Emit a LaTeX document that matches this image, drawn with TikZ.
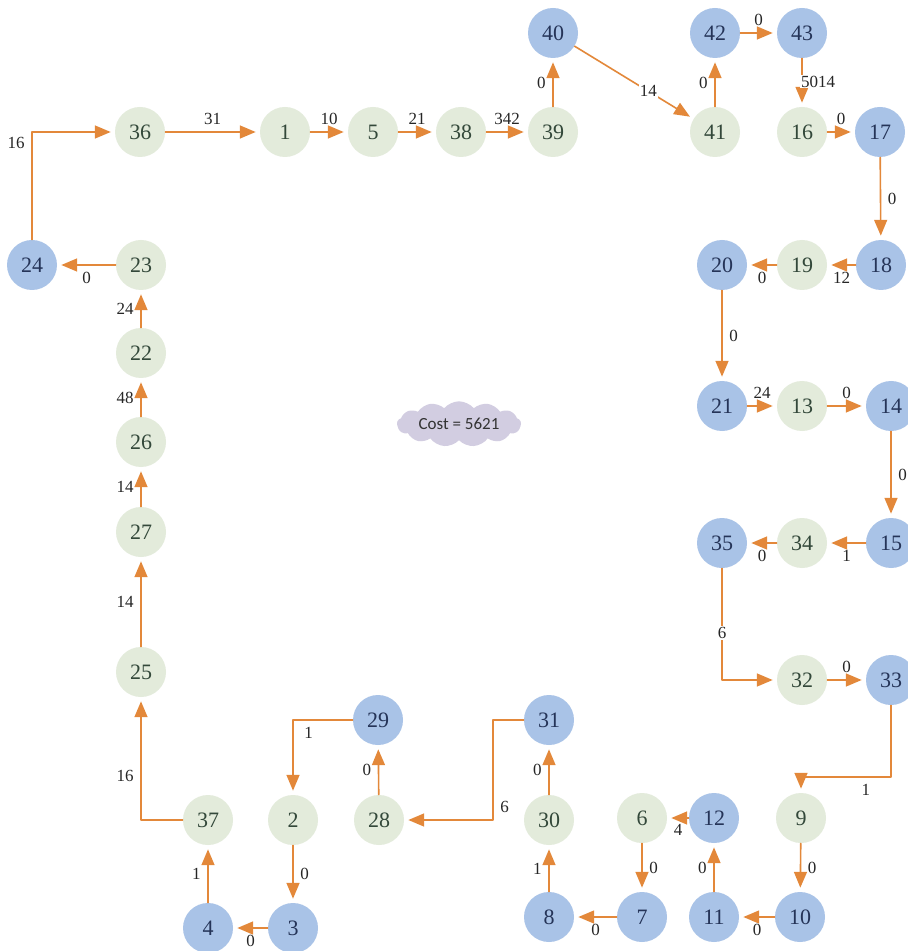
\documentclass[tikz,border=0pt]{standalone}
\usepackage{fontspec}
\setmainfont{Liberation Serif}
\newfontfamily\cloudfont{Carlito}
\usepackage{tikz}
\usetikzlibrary{arrows, shapes.symbols}

\definecolor{knotgruen}{HTML}{E3EBDB}
\definecolor{knotblau}{HTML}{A9C3E7}
\definecolor{kante}{HTML}{E3883A}
\definecolor{wolke}{HTML}{D2CDE1}
\definecolor{schrift}{HTML}{33483A}

\begin{document}
\begin{tikzpicture}[line cap=round,line join=round,>=triangle 45,x=0.5pt,y=-0.5pt,
	gnode/.style={circle,fill=knotgruen,minimum size=25pt,inner sep=0pt,text=schrift,font=\fontsize{11}{12}\selectfont},
	bnode/.style={circle,fill=knotblau,minimum size=25pt,inner sep=0pt,text=schrift!80!blue!90!black,font=\fontsize{11}{12}\selectfont},
	edge/.style={->,draw=kante,line width=0.8pt,shorten >=2pt,font=\fontsize{8.5}{10}\selectfont,text=black!85},
	onlabel/.style={fill=white,inner sep=0.6pt}]
		\clip (0,0) rectangle (908,951);
		\fill[white] (0,0) rectangle (908,951);

		% obere Reihe
		\node[gnode] (n36) at (140,132) {36};
		\node[gnode] (n1) at (285,132) {1};
		\node[gnode] (n5) at (373,132) {5};
		\node[gnode] (n38) at (461,132) {38};
		\node[gnode] (n39) at (553,132) {39};
		\node[bnode] (n40) at (553,33) {40};
		\node[gnode] (n41) at (715,132) {41};
		\node[bnode] (n42) at (715,33) {42};
		\node[bnode] (n43) at (802,33) {43};
		\node[gnode] (n16) at (802,132) {16};
		\node[bnode] (n17) at (880,132) {17};

		% linke Spalte
		\node[bnode] (n24) at (32,265) {24};
		\node[gnode] (n23) at (141,265) {23};
		\node[gnode] (n22) at (141,353) {22};
		\node[gnode] (n26) at (141,442) {26};
		\node[gnode] (n27) at (141,532) {27};
		\node[gnode] (n25) at (141,672) {25};

		% rechte Seite
		\node[bnode] (n20) at (722,265) {20};
		\node[gnode] (n19) at (802,265) {19};
		\node[bnode] (n18) at (881,265) {18};
		\node[bnode] (n21) at (722,406) {21};
		\node[gnode] (n13) at (802,406) {13};
		\node[bnode] (n14) at (891,406) {14};
		\node[bnode] (n35) at (722,543) {35};
		\node[gnode] (n34) at (802,543) {34};
		\node[bnode] (n15) at (891,543) {15};
		\node[gnode] (n32) at (802,680) {32};
		\node[bnode] (n33) at (891,680) {33};

		% untere Reihen
		\node[bnode] (n29) at (378,720) {29};
		\node[bnode] (n31) at (549,720) {31};
		\node[gnode] (n37) at (208,820) {37};
		\node[gnode] (n2) at (293,820) {2};
		\node[gnode] (n28) at (379,820) {28};
		\node[gnode] (n30) at (549,820) {30};
		\node[gnode] (n6) at (642,818) {6};
		\node[bnode] (n12) at (714,818) {12};
		\node[gnode] (n9) at (801,818) {9};
		\node[bnode] (n4) at (208,928) {4};
		\node[bnode] (n3) at (293,928) {3};
		\node[bnode] (n8) at (549,917) {8};
		\node[bnode] (n7) at (642,917) {7};
		\node[bnode] (n11) at (714,917) {11};
		\node[bnode] (n10) at (800,917) {10};

		\coordinate (k28) at (493,820);
		\coordinate (k9) at (801,777);

		% Kosten
		\node[cloud,cloud puffs=13,cloud puff arc=100,aspect=3.4,fill=wolke,minimum width=62pt,minimum height=19pt,inner sep=0pt,
			text=black!80,font=\cloudfont\fontsize{8.5}{10}\selectfont] (cost) at (459,424) {Cost = 5621};

		% Tour
		\draw[edge] (n24) |- node[pos=0.45,left] {16} (n36);
		\draw[edge] (n36) -- node[above] {31} (n1);
		\draw[edge] (n1) -- node[above] {10} (n5);
		\draw[edge] (n5) -- node[above] {21} (n38);
		\draw[edge] (n38) -- node[above] {342} (n39);
		\draw[edge] (n39) -- node[left] {0} (n40);
		\draw[edge] (n40) -- node[pos=0.62,onlabel] {14} (n41);
		\draw[edge] (n41) -- node[left] {0} (n42);
		\draw[edge] (n42) -- node[above] {0} (n43);
		\draw[edge] (n43) -- node[pos=0.48,anchor=west,xshift=-1.5pt,onlabel] {5014} (n16);
		\draw[edge] (n16) -- node[above] {0} (n17);
		\draw[edge] (n17) -- node[right] {0} (n18);
		\draw[edge] (n18) -- node[below] {12} (n19);
		\draw[edge] (n19) -- node[below] {0} (n20);
		\draw[edge] (n20) -- node[right] {0} (n21);
		\draw[edge] (n21) -- node[above] {24} (n13);
		\draw[edge] (n13) -- node[above] {0} (n14);
		\draw[edge] (n14) -- node[right] {0} (n15);
		\draw[edge] (n15) -- node[below] {1} (n34);
		\draw[edge] (n34) -- node[below] {0} (n35);
		\draw[edge] (n35) |- node[pos=0.29,onlabel] {6} (n32);
		\draw[edge] (n32) -- node[above] {0} (n33);
		\draw[edge] (n33) |- node[pos=0.64,below] {1} (k9) -- (n9);
		\draw[edge] (n9) -- node[right] {0} (n10);
		\draw[edge] (n10) -- node[below] {0} (n11);
		\draw[edge] (n11) -- node[left] {0} (n12);
		\draw[edge] (n12) -- node[below,inner sep=1pt,yshift=-2pt] {4} (n6);
		\draw[edge] (n6) -- node[right] {0} (n7);
		\draw[edge] (n7) -- node[below] {0} (n8);
		\draw[edge] (n8) -- node[left] {1} (n30);
		\draw[edge] (n30) -- node[left] {0} (n31);
		\draw[edge] (n31) -| (k28) node[above right] {6} -- (n28);
		\draw[edge] (n28) -- node[left] {0} (n29);
		\draw[edge] (n29) -| node[pos=0.5,below right,xshift=2pt] {1} (n2);
		\draw[edge] (n2) -- node[right] {0} (n3);
		\draw[edge] (n3) -- node[below] {0} (n4);
		\draw[edge] (n4) -- node[left] {1} (n37);
		\draw[edge] (n37) -| node[pos=0.68,left] {16} (n25);
		\draw[edge] (n25) -- node[left] {14} (n27);
		\draw[edge] (n27) -- node[left] {14} (n26);
		\draw[edge] (n26) -- node[left] {48} (n22);
		\draw[edge] (n22) -- node[left] {24} (n23);
		\draw[edge] (n23) -- node[below] {0} (n24);
	\end{tikzpicture}
\end{document}
